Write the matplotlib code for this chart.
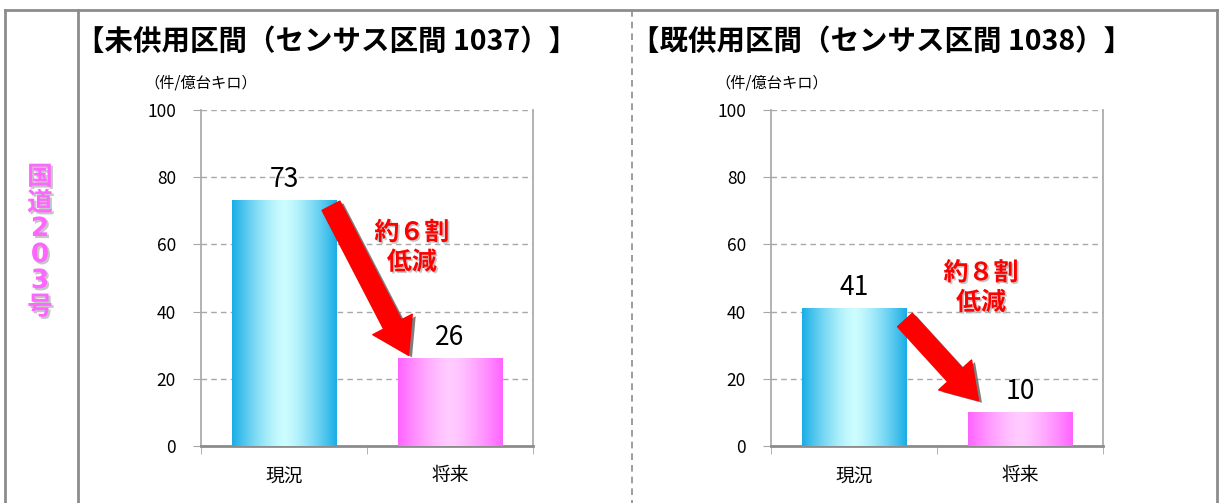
import matplotlib
matplotlib.use('Agg')
import matplotlib.pyplot as plt
import matplotlib.patheffects as pe
from matplotlib.lines import Line2D
import numpy as np

plt.rcParams['font.family'] = ['Noto Sans CJK JP', 'DejaVu Sans']

categories = ['現況', '将来']
titles = ['【未供用区間（センサス区間 1037）】', '【既供用区間（センサス区間 1038）】']
values_1037 = [73, 26]
values_1038 = [41, 10]
reductions = ['約６割\n低減', '約８割\n低減']
unit_label = '（件/億台キロ）'
route_label = '国道２０３号'
yticks = [0, 20, 40, 60, 80, 100]

# edge colour, centre colour of each bar's horizontal gradient
bar_colors = [('#19ADE6', '#CCFDFF'), ('#FF63FF', '#FFCCFF')]

W, H = 1219, 503
fig = plt.figure(figsize=(W / 100, H / 100), dpi=100)


def fx(px):
    return px / W


def fy(py):
    return 1 - py / H


def gradient(edge, centre, n=256):
    edge = np.array(matplotlib.colors.to_rgb(edge))
    centre = np.array(matplotlib.colors.to_rgb(centre))
    u = np.linspace(0, 1, n)
    t = np.abs(2 * u - 1) ** 1.4
    rgb = centre + (edge - centre) * t[:, None]
    return rgb[None, :, :]


def draw_panel(ax, values, note, note_xy, arrow_from, arrow_to):
    x = np.arange(len(categories))
    rects = ax.bar(x, values, width=0.63, color='none', zorder=3)
    for rect, (edge, centre) in zip(rects, bar_colors):
        x0, w, h = rect.get_x(), rect.get_width(), rect.get_height()
        ax.imshow(gradient(edge, centre), extent=[x0, x0 + w, 0, h],
                  aspect='auto', interpolation='bicubic', zorder=3)
        ax.text(x0 + w / 2, h + 2.2, f'{h:g}', ha='center', va='bottom',
                fontsize=19, color='black', zorder=5)

    ax.set_xlim(-0.5, len(categories) - 0.5)
    ax.set_ylim(0, 100)
    ax.set_yticks(yticks)
    ax.set_xticks(x)
    ax.set_xticklabels(categories, fontsize=13.5)
    ax.set_xticks(np.arange(len(categories) + 1) - 0.5, minor=True)
    ax.tick_params(axis='x', which='major', length=0, pad=14)
    ax.tick_params(axis='x', which='minor', length=6, color='#A6A6A6')
    ax.tick_params(axis='y', length=6, color='#A6A6A6', pad=12, labelsize=12.5)
    ax.grid(axis='y', color='#A8A8A8', linestyle=(0, (4, 3)), linewidth=1, zorder=0)
    ax.set_axisbelow(True)
    ax.spines['top'].set_visible(False)
    for side in ('left', 'right'):
        ax.spines[side].set_color('#A6A6A6')
        ax.spines[side].set_linewidth(1.2)
    ax.spines['bottom'].set_color('#8C8C8C')
    ax.spines['bottom'].set_linewidth(2)

    ax.annotate('', xy=arrow_to, xytext=arrow_from, zorder=6,
                arrowprops=dict(arrowstyle='simple,head_length=1.25,head_width=1.6,tail_width=0.72',
                                mutation_scale=20, color='#FF0000', shrinkA=0, shrinkB=0,
                                path_effects=[pe.SimplePatchShadow(offset=(2.5, -1.5),
                                                                   shadow_rgbFace='#707070', alpha=0.9),
                                              pe.Normal()]))
    ax.text(*note_xy, note, ha='center', va='center', fontsize=18, fontweight='bold',
            color='#FF0000', linespacing=1.3, zorder=6,
            path_effects=[pe.withSimplePatchShadow(offset=(1.2, -1.2),
                                                   shadow_rgbFace='#B0B0B0', alpha=0.7)])


ax1 = fig.add_axes([fx(201), fy(446), fx(533 - 201), (446 - 110) / H])
ax2 = fig.add_axes([fx(771), fy(446), fx(1103 - 771), (446 - 110) / H])

draw_panel(ax1, values_1037, reductions[0], (0.77, 59), (0.283, 71.5), (0.75, 27))
draw_panel(ax2, values_1038, reductions[1], (0.765, 47), (0.307, 37.5), (0.75, 13.5))

# panel titles and units
fig.text(fx(76), fy(42), titles[0], fontsize=20.5, fontweight='bold', ha='left', va='center')
fig.text(fx(631), fy(42), titles[1], fontsize=20.5, fontweight='bold', ha='left', va='center')
fig.text(fx(144), fy(83), unit_label, fontsize=11, ha='left', va='center')
fig.text(fx(715), fy(83), unit_label, fontsize=11, ha='left', va='center')

# road name written top to bottom in the left column, one glyph per row
half_width = str.maketrans('０１２３４５６７８９', '0123456789')
shadow = [pe.withSimplePatchShadow(offset=(1.5, -1.5), shadow_rgbFace='#A0A0A0', alpha=0.6)]
for i, ch in enumerate(route_label):
    digit = ch.translate(half_width)
    if digit.isascii():
        fig.text(fx(40), fy(177 + 26 * i), digit, fontsize=19, fontweight='bold',
                 family='DejaVu Sans', color='#FF66FF', ha='center', va='center',
                 path_effects=shadow)
    else:
        fig.text(fx(40), fy(177 + 26 * i), ch, fontsize=18.5, fontweight='bold',
                 color='#FF66FF', ha='center', va='center', path_effects=shadow)

# table frame
frame = dict(color='#8C8C8C', linewidth=2)
fig.add_artist(Line2D([fx(5), fx(1217)], [fy(10), fy(10)], **frame))
fig.add_artist(Line2D([fx(5), fx(5)], [fy(10), 0], **frame))
fig.add_artist(Line2D([fx(78), fx(78)], [fy(10), 0], **frame))
fig.add_artist(Line2D([fx(1217), fx(1217)], [fy(10), 0], **frame))
fig.add_artist(Line2D([fx(632), fx(632)], [fy(10), 0], color='#8C8C8C',
                      linewidth=1.2, linestyle=(0, (4, 3))))

fig.savefig('out.png', dpi=100)
